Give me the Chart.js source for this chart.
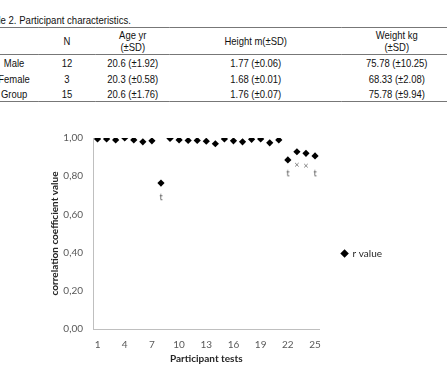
<!DOCTYPE html>
<html>
<head>
<meta charset="utf-8">
<script src="https://cdn.jsdelivr.net/npm/chart.js@4"></script>
<style>
  html, body { margin: 0; padding: 0; background: #fff; }
  body { width: 447px; height: 377px; position: relative; overflow: hidden; }
  .caption {
    position: absolute; left: -17px; top: 14px; white-space: nowrap;
    transform: scaleX(0.87); transform-origin: 0 0;
    font: 11px "Liberation Sans", Arial, sans-serif; color: #111;
  }
  table {
    position: absolute; left: -10px; top: 27px; width: 537px;
    transform: scaleX(0.86); transform-origin: 0 0;
    border-collapse: collapse; table-layout: fixed;
    font: 11px "Liberation Sans", Arial, sans-serif; color: #111;
  }
  table th, table td { text-align: center; padding: 0; font-weight: normal; }
  thead tr { height: 27px; border-top: 1px solid #777; border-bottom: 1px solid #777; }
  thead th { line-height: 12px; }
  tbody tr { height: 16px; }
  tbody tr:last-child { border-bottom: 1px solid #777; height: 15px; }
  #wrap { position: absolute; left: 0; top: 110px; width: 447px; height: 267px; }
</style>
</head>
<body>
<div class="caption">Table 2. Participant characteristics.</div>
<table>
  <colgroup>
    <col style="width:56px"><col style="width:67px"><col style="width:86px"><col style="width:200px"><col style="width:128px">
  </colgroup>
  <thead>
    <tr><th></th><th>N</th><th>Age yr<br>(±SD)</th><th>Height m(±SD)</th><th>Weight kg<br>(±SD)</th></tr>
  </thead>
  <tbody>
    <tr><td>Male</td><td>12</td><td>20.6 (±1.92)</td><td>1.77 (±0.06)</td><td>75.78 (±10.25)</td></tr>
    <tr><td>Female</td><td>3</td><td>20.3 (±0.58)</td><td>1.68 (±0.01)</td><td>68.33 (±2.08)</td></tr>
    <tr><td>Group</td><td>15</td><td>20.6 (±1.76)</td><td>1.76 (±0.07)</td><td>75.78 (±9.94)</td></tr>
  </tbody>
</table>
<div id="wrap"><canvas id="chart"></canvas></div>
<script>
// participant tests 1..25
const tests = ["1","2","3","4","5","6","7","8","9","10","11","12","13","14","15","16","17","18","19","20","21","22","23","24","25"];
// r value per test
const rValues = [0.995, 0.995, 0.99, 1.00, 0.99, 0.98, 0.985, 0.764, 0.998, 0.99, 0.987, 0.987, 0.983, 0.97, 0.995, 0.985, 0.98, 0.993, 0.995, 0.975, 0.99, 0.885, 0.928, 0.92, 0.906];
// grey crosses under tests 23, 24
const crossValues = [null, null, null, null, null, null, null, null, null, null, null, null, null, null, null, null, null, null, null, null, null, null, 0.86, 0.855, null];
// "t" marks under tests 8, 22, 25
const tMarkValues = [null, null, null, null, null, null, null, 0.69, null, null, null, null, null, null, null, null, null, null, null, null, null, 0.815, null, null, 0.815];
const yTicks = [0, 0.2, 0.4, 0.6, 0.8, 1.0];

const FONT = "Lato, 'Open Sans', sans-serif";
const GREY = "#595959";

// little "t" glyph used as a point style
const tGlyph = document.createElement("canvas");
tGlyph.width = 8; tGlyph.height = 12;
(function () {
  const c = tGlyph.getContext("2d");
  c.fillStyle = GREY;
  c.font = "9px " + FONT;
  c.textAlign = "center";
  c.textBaseline = "middle";
  c.fillText("t", 4, 6);
})();

new Chart(document.getElementById("chart"), {
  type: "line",
  data: {
    labels: tests,
    datasets: [
      {
        label: "r value",
        data: rValues,
        showLine: false,
        pointStyle: "rectRot",
        pointRadius: 3.6,
        pointHoverRadius: 3.6,
        backgroundColor: "#000",
        borderColor: "#000",
        borderWidth: 0
      },
      {
        label: "cross",
        data: crossValues,
        showLine: false,
        pointStyle: "crossRot",
        pointRadius: 2.5,
        borderColor: "#808080",
        borderWidth: 1
      },
      {
        label: "t",
        data: tMarkValues,
        showLine: false,
        pointStyle: tGlyph,
        pointRadius: 4
      }
    ]
  },
  options: {
    responsive: true,
    maintainAspectRatio: false,
    animation: false,
    events: [],
    layout: { padding: { top: 28, left: 45, right: 55, bottom: 8 } },
    plugins: {
      tooltip: { enabled: false },
      legend: {
        position: "right",
        labels: {
          usePointStyle: true,
          pointStyle: "rectRot",
          boxWidth: 6,
          boxHeight: 6,
          padding: 22,
          color: "#262626",
          font: { family: FONT, size: 10 },
          filter: (item) => item.datasetIndex === 0
        }
      }
    },
    scales: {
      x: {
        type: "category",
        offset: true,
        afterFit: (s) => { s.height = 40; },
        grid: { display: false, drawTicks: false },
        border: { display: true, color: "#bfbfbf", width: 1 },
        ticks: {
          autoSkip: false,
          maxRotation: 0,
          padding: 10,
          color: GREY,
          font: { family: FONT, size: 10 },
          callback: function (v, i) { return i % 3 === 0 ? tests[i] : ""; }
        },
        title: {
          display: true,
          text: "Participant tests",
          color: "#262626",
          font: { family: FONT, size: 10, weight: "bold" },
          padding: { top: 0, bottom: 4 }
        }
      },
      y: {
        min: 0,
        max: 1,
        afterBuildTicks: (s) => { s.ticks = yTicks.map((v) => ({ value: v })); },
        afterFit: (s) => { s.width = 48; },
        grid: { display: false, drawTicks: false },
        border: { display: true, color: "#bfbfbf", width: 1 },
        ticks: {
          padding: 10,
          color: GREY,
          font: { family: FONT, size: 10 },
          callback: (v) => v.toFixed(2).replace(".", ",")
        },
        title: {
          display: true,
          text: "correlation coefficient value",
          color: "#262626",
          font: { family: FONT, size: 10, weight: "bold" },
          padding: { top: 4, bottom: 2 }
        }
      }
    }
  }
});
</script>
</body>
</html>
